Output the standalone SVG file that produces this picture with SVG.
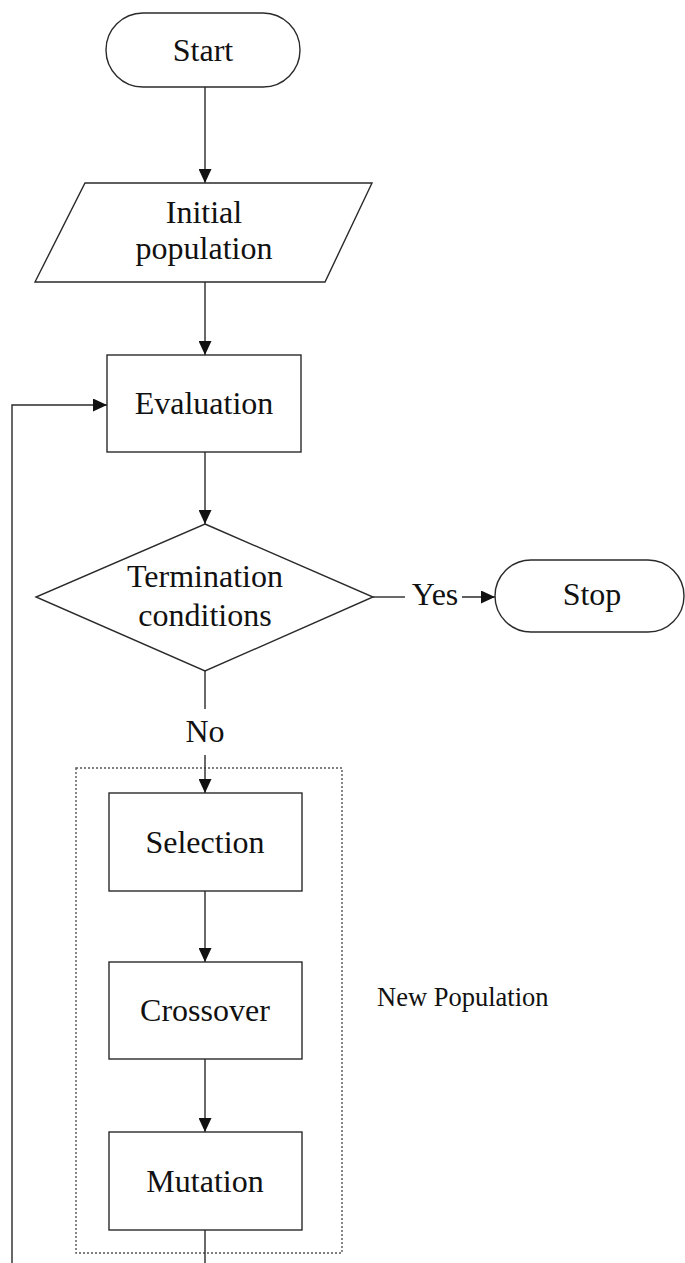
<svg xmlns="http://www.w3.org/2000/svg" width="685" height="1263" viewBox="0 0 685 1263">
  <style>
    .shape { fill: #ffffff; stroke: #2a2a2a; stroke-width: 1.4; }
    .wire { fill: none; stroke: #2a2a2a; stroke-width: 1.4; }
    .group { fill: none; stroke: #555555; stroke-width: 1.4; stroke-dasharray: 2 2; }
    .label { font-family: "Liberation Serif", "Times New Roman", serif; font-size: 32px; fill: #111111; text-anchor: middle; }
    .note { font-family: "Liberation Serif", "Times New Roman", serif; font-size: 26.5px; fill: #111111; }
  </style>
  <defs>
    <marker id="arrow" viewBox="0 0 14 13" refX="14" refY="6.5" markerWidth="14" markerHeight="13" markerUnits="userSpaceOnUse" orient="auto">
      <path d="M0,0 L14,6.5 L0,13 Z" fill="#111111"/>
    </marker>
  </defs>
  <rect width="685" height="1263" fill="#ffffff"/>

  <!-- dotted frame around the new-population steps -->
  <g id="new-population">
    <rect class="group" x="76" y="768" width="266" height="485"/>
    <text class="note" x="377" y="1006">New Population</text>
  </g>

  <g id="connectors">
    <path class="wire" d="M205,87 V183" marker-end="url(#arrow)"/>
    <path class="wire" d="M205,282 V355" marker-end="url(#arrow)"/>
    <path class="wire" d="M205,452 V524" marker-end="url(#arrow)"/>
    <path class="wire" d="M373,597 H405"/>
    <text class="label" x="435" y="605">Yes</text>
    <path class="wire" d="M462,597 H495" marker-end="url(#arrow)"/>
    <path class="wire" d="M205,671 V709"/>
    <text class="label" x="205" y="742">No</text>
    <path class="wire" d="M205,755 V793" marker-end="url(#arrow)"/>
    <path class="wire" d="M205,891 V962" marker-end="url(#arrow)"/>
    <path class="wire" d="M205,1059 V1132" marker-end="url(#arrow)"/>
    <!-- loop back from mutation to evaluation -->
    <path class="wire" d="M205,1230 V1280 H12 V405 H107" marker-end="url(#arrow)"/>
  </g>

  <g id="start">
    <rect class="shape" x="106" y="13" width="194" height="74" rx="37" ry="37"/>
    <text class="label" x="203" y="61">Start</text>
  </g>

  <g id="initial-population">
    <polygon class="shape" points="85,183 372,183 325,282 35,282"/>
    <text class="label" x="204" y="223">Initial</text>
    <text class="label" x="204" y="259">population</text>
  </g>

  <g id="evaluation">
    <rect class="shape" x="107" y="355" width="194" height="97"/>
    <text class="label" x="204" y="414">Evaluation</text>
  </g>

  <g id="termination">
    <polygon class="shape" points="205,524 373,597 205,671 36,597"/>
    <text class="label" x="205" y="587">Termination</text>
    <text class="label" x="205" y="626">conditions</text>
  </g>

  <g id="stop">
    <rect class="shape" x="495" y="560" width="189" height="72" rx="36" ry="36"/>
    <text class="label" x="592" y="605">Stop</text>
  </g>

  <g id="selection">
    <rect class="shape" x="109" y="793" width="193" height="98"/>
    <text class="label" x="205" y="853">Selection</text>
  </g>

  <g id="crossover">
    <rect class="shape" x="109" y="962" width="193" height="97"/>
    <text class="label" x="205" y="1021">Crossover</text>
  </g>

  <g id="mutation">
    <rect class="shape" x="109" y="1132" width="193" height="98"/>
    <text class="label" x="205" y="1192">Mutation</text>
  </g>
</svg>
